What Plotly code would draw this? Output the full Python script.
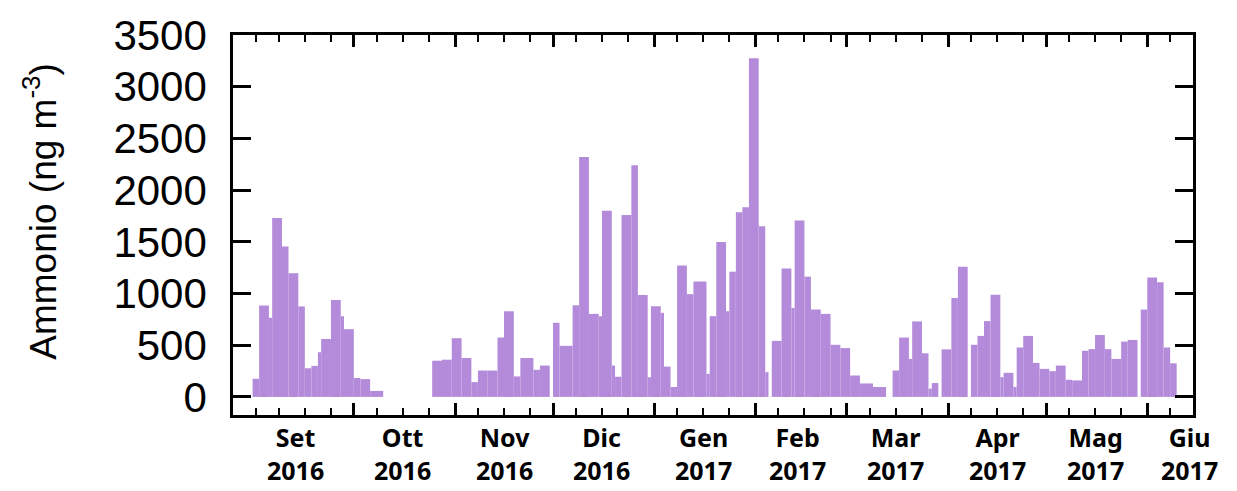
import pandas as pd
import plotly.graph_objects as go

# ---- data: sampling start date, sample duration (days), ammonium (ng m-3) ----
sample_start = [
    "2016-08-31", "2016-09-02", "2016-09-05", "2016-09-06", "2016-09-09", "2016-09-11",
    "2016-09-14", "2016-09-16", "2016-09-18", "2016-09-20", "2016-09-21", "2016-09-24",
    "2016-09-27", "2016-09-28", "2016-10-01", "2016-10-03", "2016-10-06",
    "2016-10-25", "2016-10-28", "2016-10-31", "2016-11-03", "2016-11-06", "2016-11-08",
    "2016-11-11", "2016-11-14", "2016-11-16", "2016-11-19", "2016-11-21", "2016-11-25",
    "2016-11-27", "2016-12-01", "2016-12-03", "2016-12-07", "2016-12-09", "2016-12-12",
    "2016-12-15", "2016-12-16", "2016-12-19", "2016-12-20", "2016-12-22", "2016-12-25",
    "2016-12-27", "2016-12-30", "2016-12-31", "2017-01-03", "2017-01-04", "2017-01-06",
    "2017-01-08", "2017-01-11", "2017-01-13", "2017-01-17", "2017-01-18", "2017-01-20",
    "2017-01-23", "2017-01-24", "2017-01-26", "2017-01-28", "2017-01-30", "2017-02-02",
    "2017-02-04", "2017-02-06", "2017-02-09", "2017-02-12", "2017-02-13", "2017-02-16",
    "2017-02-18", "2017-02-21", "2017-02-24", "2017-02-27", "2017-03-02", "2017-03-05",
    "2017-03-09", "2017-03-15", "2017-03-17", "2017-03-20", "2017-03-21", "2017-03-24",
    "2017-03-26", "2017-03-27", "2017-03-30", "2017-04-02", "2017-04-04", "2017-04-08",
    "2017-04-10", "2017-04-12", "2017-04-14", "2017-04-17", "2017-04-18", "2017-04-21",
    "2017-04-22", "2017-04-24", "2017-04-27", "2017-04-29", "2017-05-02", "2017-05-04",
    "2017-05-07", "2017-05-09", "2017-05-12", "2017-05-14", "2017-05-16", "2017-05-19",
    "2017-05-21", "2017-05-24", "2017-05-26", "2017-05-30", "2017-06-01", "2017-06-04",
    "2017-06-06", "2017-06-08",
]
sample_days = [
    2, 3, 1, 3, 2, 3,
    2, 2, 2, 1, 3, 3,
    1, 3, 2, 3, 4,
    3, 3, 3, 3, 2, 3,
    3, 2, 3, 2, 4, 2,
    3, 2, 4, 2, 3, 3,
    1, 3, 1, 2, 3, 2,
    3, 1, 3, 1, 2, 2,
    3, 2, 4, 1, 2, 3,
    1, 2, 2, 2, 3, 2,
    1, 3, 3, 1, 3, 2,
    3, 3, 3, 3, 3, 4,
    4, 2, 3, 1, 3, 2,
    1, 2, 3, 2, 3, 2,
    2, 2, 3, 1, 3, 1,
    2, 3, 2, 3, 2, 3,
    2, 3, 2, 2, 3, 2,
    3, 2, 3, 2, 3, 2,
    2, 2,
]
ammonium = [
    175, 885, 765, 1730, 1455, 1195,
    875, 277, 300, 432, 560, 938,
    780, 655, 183, 172, 58,
    350, 360, 568, 376, 143, 255,
    255, 574, 829, 198, 376, 262,
    303, 717, 494, 886, 2320, 803,
    780, 1800, 303, 195, 1760, 2240,
    985, 190, 876, 813, 293, 96,
    1270, 994, 1115, 223, 781, 1498,
    829, 1211, 1785, 1833, 3276, 1650,
    239, 542, 1243, 860, 1705, 1163,
    845, 803, 504, 472, 207, 130,
    96, 255, 574, 367, 730, 422,
    80, 134, 460, 956, 1259, 504,
    590, 733, 988, 191, 233, 96,
    478, 590, 329, 271, 249, 303,
    166, 159, 446, 462, 599, 462,
    367, 535, 551, 845, 1154, 1109,
    478, 325,
]

month_labels = ["Set<br>2016", "Ott<br>2016", "Nov<br>2016", "Dic<br>2016", "Gen<br>2017",
                "Feb<br>2017", "Mar<br>2017", "Apr<br>2017", "Mag<br>2017", "Giu<br>2017"]
month_label_pos = ["2016-09-13", "2016-10-16", "2016-11-16", "2016-12-16", "2017-01-16",
                   "2017-02-14", "2017-03-16", "2017-04-16", "2017-05-16", "2017-06-14"]
major_ticks = pd.date_range("2016-10-01", "2017-06-01", freq="MS")
y_ticks = [0, 500, 1000, 1500, 2000, 2500, 3000, 3500]

# ---- build ----
starts = pd.to_datetime(sample_start)
dur = pd.to_timedelta(sample_days, unit="D")
centers = starts + dur / 2
widths = [d * 86400000 for d in sample_days]

minor_ticks = [pd.Timestamp("2016-09-01")]
for m in pd.date_range("2016-08-01", "2017-06-01", freq="MS"):
    for d in (8, 16, 24):
        minor_ticks.append(m + pd.Timedelta(days=d - 1))

fig = go.Figure()
fig.add_trace(go.Bar(
    x=centers, y=ammonium, width=widths,
    marker=dict(color="#B48BDB", line=dict(width=0)),
))

fig.update_layout(
    width=1237, height=491,
    margin=dict(l=233, r=44, t=31, b=76),
    plot_bgcolor="white", paper_bgcolor="white",
    showlegend=False,
    xaxis=dict(
        type="date",
        range=["2016-08-25", "2017-06-15"],
        tickvals=list(major_ticks),
        showticklabels=False,
        ticks="inside", ticklen=12, tickwidth=2.5, tickcolor="black",
        minor=dict(tickvals=minor_ticks, ticks="inside", ticklen=7, tickwidth=2, tickcolor="black"),
        showline=True, linewidth=2.5, linecolor="black", mirror="allticks",
        showgrid=False, zeroline=False,
    ),
    yaxis=dict(
        range=[-175, 3500],
        tickvals=y_ticks,
        ticks="inside", ticklen=18, tickwidth=2.5, tickcolor="black",
        showline=True, linewidth=2.5, linecolor="black", mirror="allticks",
        showgrid=False, zeroline=False,
        tickfont=dict(family="Liberation Sans, Arial", size=42, color="black"),
        ticklabelstandoff=15,
    ),
)

for lab, pos in zip(month_labels, month_label_pos):
    fig.add_annotation(
        x=pos, y=0, xref="x", yref="paper", text=lab, showarrow=False,
        xanchor="center", yanchor="top", yshift=-3,
        font=dict(family="Noto Sans", size=25, color="black", weight="bold"),
    )

fig.add_annotation(
    x=-0.2, y=0.535, xref="paper", yref="paper",
    text="Ammonio (ng m<sup>-3</sup>)", showarrow=False, textangle=-90,
    xanchor="center", yanchor="middle",
    font=dict(family="Liberation Sans, Arial", size=37, color="black"),
)

fig.write_html("out.html")
